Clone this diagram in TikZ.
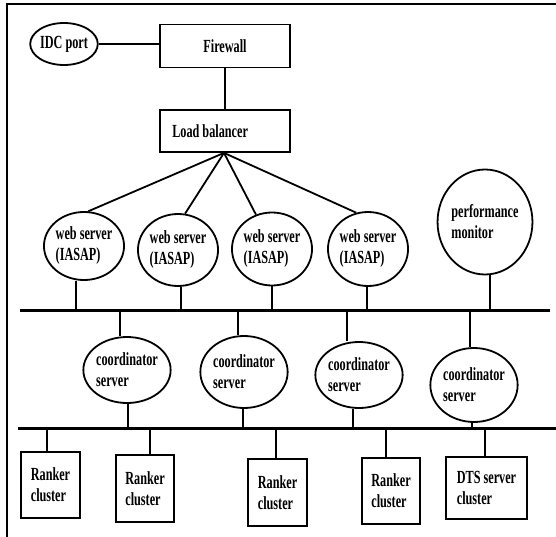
\documentclass[tikz,border=0pt]{standalone}
\usepackage{fontspec}
\setmainfont{Liberation Serif}[FakeStretch=0.66]
\usetikzlibrary{shapes.geometric}
\begin{document}
\begin{tikzpicture}[x=1pt,y=-1pt,
  every node/.style={font=\fontsize{18.5}{21}\selectfont\bfseries, inner sep=0pt},
  oval/.style={draw, ellipse, line width=1.8pt, align=left},
  boxnode/.style={draw, rectangle, line width=1.8pt, align=left},
  conn/.style={line width=1.8pt},
  bus/.style={line width=3pt}]
\useasboundingbox (0,0) rectangle (556,537);
% frame
\draw[line width=2pt] (7,537) -- (7,4) -- (556,4);
% top part
\node[oval, minimum width=66pt, minimum height=42pt] (idc) at (64,44) {IDC port};
\node[boxnode, minimum width=130pt, minimum height=43pt] (fw) at (225,46) {Firewall};
\node[boxnode, minimum width=130pt, minimum height=42pt] (lb) at (225,131) {};
\node[anchor=west] (lbt) at ([xshift=13pt]lb.west) {Load balancer};
\draw[conn] (idc) -- (idc -| fw.west);
\draw[conn] (fw.south) -- (lb.north);
% web servers
\node[oval, minimum width=80pt, minimum height=68pt] (ws1) at (84,246) {web server\\(IASAP)};
\node[oval, minimum width=80pt, minimum height=72pt] (ws2) at (178,250) {web server\\(IASAP)};
\node[oval, minimum width=80pt, minimum height=73pt] (ws3) at (272,249) {web server\\(IASAP)};
\node[oval, minimum width=80pt, minimum height=74pt] (ws4) at (368,249) {web server\\(IASAP)};
\node[oval, minimum width=84pt, minimum height=105pt] (pm) at (485,222) {performance\\monitor};
\coordinate (fan) at ([xshift=-1pt]lb.south);
\draw[conn] (fan) -- (ws1.83);
\draw[conn] (fan) -- (ws2.79);
\draw[conn] (fan) -- (ws3.115);
\draw[conn] (fan) -- (ws4.108);
% bus 1
\coordinate (b1w) at (20,310);
\coordinate (b1e) at (550,310);
\draw[bus] (b1w) -- (b1e);
\foreach \n/\x in {ws1/76, ws2/181, ws3/272, ws4/367, pm/490} {
  \coordinate (d\n) at (\x,310);
  \draw[conn] (\n.south -| d\n) -- (d\n);
}
% coordinators
\node[oval, minimum width=81pt, minimum height=66pt] (c1) at (127,370) {coordinator\\server};
\node[oval, minimum width=82pt, minimum height=72pt] (c2) at (244,372) {coordinator\\server};
\node[oval, minimum width=81pt, minimum height=66pt] (c3) at (359,375) {coordinator\\server};
\node[oval, minimum width=82pt, minimum height=74pt] (c4) at (474,385) {coordinator\\server};
\foreach \n/\x in {c1/120, c2/238, c3/347, c4/470} {
  \coordinate (u\n) at (\x,310);
  \draw[conn] (u\n) -- (\n.north -| u\n);
}
% bus 2
\coordinate (b2w) at (18,428);
\coordinate (b2e) at (556,428);
\draw[bus] (b2w) -- (b2e);
\foreach \n/\x in {c1/128, c2/243, c3/353, c4/472} {
  \coordinate (l\n) at (\x,428);
  \draw[conn] (\n.south -| l\n) -- (l\n);
}
% clusters
\node[boxnode, minimum width=59pt, minimum height=66pt] (r1) at (50.5,485) {Ranker\\cluster};
\node[boxnode, minimum width=58pt, minimum height=67pt] (r2) at (145,488.5) {Ranker\\cluster};
\node[boxnode, minimum width=59pt, minimum height=67pt] (r3) at (277.5,492.5) {Ranker\\cluster};
\node[boxnode, minimum width=58pt, minimum height=66pt] (r4) at (391,491) {Ranker\\cluster};
\node[boxnode, minimum width=81pt, minimum height=62pt] (dts) at (486.5,488) {DTS server\\cluster};
\foreach \n/\x in {r1/47, r2/150, r3/276, r4/386, dts/485} {
  \coordinate (k\n) at (\x,428);
  \draw[conn] (k\n) -- (\n.north -| k\n);
}
\end{tikzpicture}
\end{document}
